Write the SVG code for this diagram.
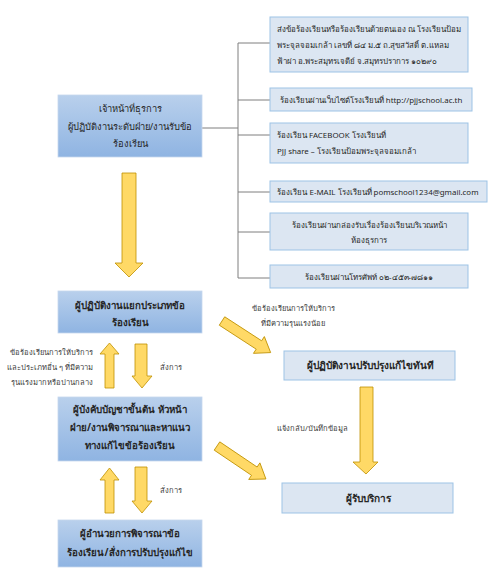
<svg xmlns="http://www.w3.org/2000/svg" width="500" height="579" viewBox="0 0 500 579">
<defs>
<linearGradient id="gBlue" x1="0" y1="0" x2="0" y2="1">
<stop offset="0" stop-color="#B9D0EC"/>
<stop offset="1" stop-color="#8FB4E2"/>
</linearGradient>
</defs>
<style>
text{font-family:"Noto Sans","DejaVu Sans",sans-serif;fill:#262626}
.main{fill:url(#gBlue);stroke:#C5D7EE;stroke-width:0.8}
.side{fill:#DCE6F2;stroke:#9DC3E6;stroke-width:1}
.arr{fill:#FFD966;stroke:#BF9000;stroke-width:0.8;stroke-linejoin:miter}
.ln{stroke:#7F7F7F;stroke-width:1;fill:none}
.t11{font-size:9.3px}
.b11{font-size:9.7px;font-weight:bold}
.br{font-size:10px;font-weight:bold}
.s9{font-size:7.9px}
.lab{font-size:7.6px;fill:#404040}
</style>
<rect width="500" height="579" fill="#fff"/>
<g id="connectors">
<path class="ln" d="M202,128H238M238,43V278M238,43H270M238,100H270M238,135H270M238,192H270M238,232H270M238,278H270"/>
<polygon class="arr" points="122,173 136,173 136,263 143,263 129,277 115,263 122,263"/>
<polygon class="arr" points="109.5,343 119,354 114,354 114,388 105,388 105,354 100,354"/>
<polygon class="arr" points="135,344 147,344 147,376 152,376 142,388 132,376 135,376"/>
<polygon class="arr" points="109.5,468 119,480 114,480 114,513 105,513 105,480 100,480"/>
<polygon class="arr" points="135,467 147,467 147,501 152,501 142,513 132,501 135,501"/>
<polygon class="arr" points="360,387 373,387 373,462 378,462 366,474 353,462 360,462"/>
<polygon class="arr" transform="translate(222,321) rotate(33)" points="0,-5 44,-5 44,-10 58,0 44,10 44,5 0,5"/>
<polygon class="arr" transform="translate(217,446) rotate(34)" points="0,-5 45,-5 45,-10 59,0 45,10 45,5 0,5"/>
<text class="lab" x="93" y="355" text-anchor="end">ข้อร้องเรียนการให้บริการ</text>
<text class="lab" x="93" y="370" text-anchor="end">และประเภทอื่น ๆ ที่มีความ</text>
<text class="lab" x="93" y="385" text-anchor="end">รุนแรงมากหรือปานกลาง</text>
<text class="lab" x="160" y="370">สั่งการ</text>
<text class="lab" x="160" y="493">สั่งการ</text>
<text class="lab" x="293" y="311" text-anchor="middle">ข้อร้องเรียนการให้บริการ</text>
<text class="lab" x="293" y="326" text-anchor="middle">ที่มีความรุนแรงน้อย</text>
<text class="lab" x="277" y="431">แจ้งกลับ/บันทึกข้อมูล</text>
</g>
<g id="n-officer">
<rect class="main" x="58" y="95" width="144" height="62"/>
<text class="t11" x="130" y="112" text-anchor="middle">เจ้าหน้าที่ธุรการ</text>
<text class="t11" x="130" y="130" text-anchor="middle">ผู้ปฏิบัติงานระดับฝ่าย/งานรับข้อ</text>
<text class="t11" x="130" y="147" text-anchor="middle">ร้องเรียน</text>
</g>
<g id="n-sort">
<rect class="main" x="58" y="291" width="144" height="42"/>
<text class="b11" x="130" y="309" text-anchor="middle">ผู้ปฏิบัติงานแยกประเภทข้อ</text>
<text class="b11" x="130" y="326" text-anchor="middle">ร้องเรียน</text>
</g>
<g id="n-head">
<rect class="main" x="58" y="397" width="144" height="64"/>
<text class="b11" x="130" y="413" text-anchor="middle">ผู้บังคับบัญชาขั้นต้น หัวหน้า</text>
<text class="b11" x="130" y="431" text-anchor="middle">ฝ่าย/งานพิจารณาและหาแนว</text>
<text class="b11" x="130" y="449" text-anchor="middle">ทางแก้ไขข้อร้องเรียน</text>
</g>
<g id="n-director">
<rect class="main" x="58" y="520" width="144" height="47"/>
<text class="b11" x="130" y="537" text-anchor="middle">ผู้อำนวยการพิจารณาข้อ</text>
<text class="b11" x="130" y="556" text-anchor="middle">ร้องเรียน/สั่งการปรับปรุงแก้ไข</text>
</g>
<g id="n-inperson">
<rect class="side" x="270" y="17" width="198" height="55"/>
<text class="s9" x="277" y="32">ส่งข้อร้องเรียนหรือร้องเรียนด้วยตนเอง ณ โรงเรียนป้อม</text>
<text class="s9" x="277" y="48">พระจุลจอมเกล้า เลขที่ ๘๔ ม.๕ ถ.สุขสวัสดิ์ ต.แหลม</text>
<text class="s9" x="277" y="64">ฟ้าผ่า อ.พระสมุทรเจดีย์ จ.สมุทรปราการ ๑๐๒๙๐</text>
</g>
<g id="n-web">
<rect class="side" x="270" y="88" width="202" height="23"/>
<text class="s9" x="371" y="103" text-anchor="middle">ร้องเรียนผ่านเว็บไซต์โรงเรียนที่ http://pjjschool.ac.th</text>
</g>
<g id="n-facebook">
<rect class="side" x="270" y="123" width="198" height="40"/>
<text class="s9" x="277" y="138">ร้องเรียน FACEBOOK โรงเรียนที่</text>
<text class="s9" x="277" y="154">PJJ share – โรงเรียนป้อมพระจุลจอมเกล้า</text>
</g>
<g id="n-email">
<rect class="side" x="270" y="181" width="217" height="21"/>
<text class="s9" x="378" y="195" text-anchor="middle">ร้องเรียน E-MAIL โรงเรียนที่ pomschool1234@gmail.com</text>
</g>
<g id="n-box">
<rect class="side" x="270" y="213" width="198" height="37"/>
<text class="s9" x="369" y="228" text-anchor="middle">ร้องเรียนผ่านกล่องรับเรื่องร้องเรียนบริเวณหน้า</text>
<text class="s9" x="369" y="243" text-anchor="middle">ห้องธุรการ</text>
</g>
<g id="n-phone">
<rect class="side" x="270" y="265" width="198" height="23"/>
<text class="s9" x="369" y="280" text-anchor="middle">ร้องเรียนผ่านโทรศัพท์ ๐๒-๔๕๓-๗๘๑๑</text>
</g>
<g id="n-fix">
<rect class="side" x="284" y="351" width="171" height="29"/>
<text class="br" x="370" y="369" text-anchor="middle">ผู้ปฏิบัติงานปรับปรุงแก้ไขทันที</text>
</g>
<g id="n-client">
<rect class="side" x="282" y="483" width="171" height="30"/>
<text class="br" x="368" y="502" text-anchor="middle">ผู้รับบริการ</text>
</g>
</svg>
